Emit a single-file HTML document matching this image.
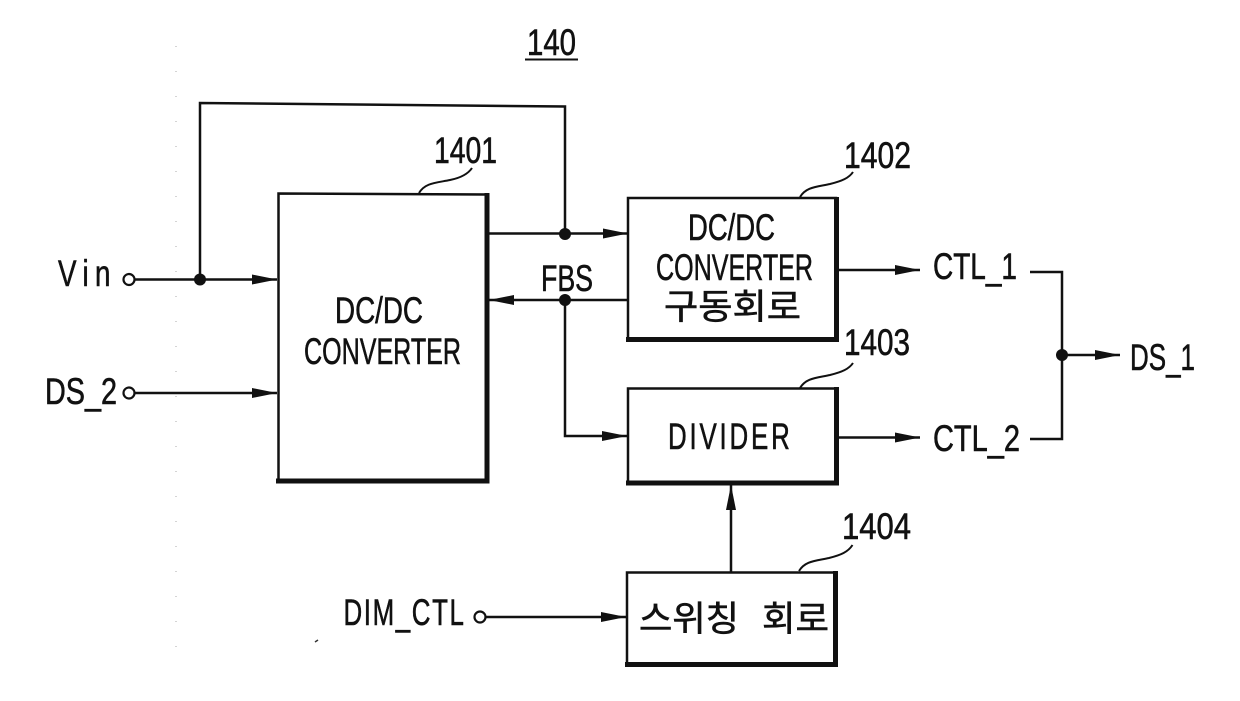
<!DOCTYPE html>
<html><head><meta charset="utf-8">
<style>
html,body{margin:0;padding:0;background:#fff;width:1240px;height:701px;overflow:hidden}
svg{display:block}
text{font-family:"Liberation Sans","Noto Sans CJK KR",sans-serif;fill:#111;stroke:#111;stroke-width:.6}
</style></head><body>
<svg width="1240" height="701" viewBox="0 0 1240 701" xmlns="http://www.w3.org/2000/svg">
<defs>
<marker id="a" markerUnits="userSpaceOnUse" markerWidth="25" markerHeight="12" refX="25" refY="6" orient="auto"><path d="M0 1L25 6L0 11Z" fill="#111"/></marker>
</defs>
<!-- faint scan specks -->
<path d="M176 46V660" stroke="#aaa" stroke-width="1" stroke-dasharray="1 24" fill="none"/>
<path d="M315 642L318 640" stroke="#333" stroke-width="1.5" fill="none"/>
<g fill="none" stroke="#111" stroke-width="2.5">
<!-- boxes -->
<path d="M278.5 193.5L487 194.5V481H278.5Z"/>
<path d="M276 481H489M487 193V483.5" stroke-width="5"/>
<path d="M628 198H836V339H628Z"/>
<path d="M626 339.5H838.5M836.5 197V342" stroke-width="5"/>
<path d="M628 388.5H836V483H628Z"/>
<path d="M626 483H838.5M836.5 387V485.5" stroke-width="5"/>
<path d="M627 572.5H835.5V664.5H627Z"/>
<path d="M625 664.5H838M835.5 571V667" stroke-width="5"/>
<!-- leaders -->
<g stroke-width="2">
<path d="M419 193C425 183 435 183 450 180C460 178 468 174 472 168"/>
<path d="M800 197C806 187 816 187 830 184C842 181 849 178 853 172"/>
<path d="M800 388C806 378 816 378 830 375C842 372 849 369 853 363"/>
<path d="M799 571C805 561 815 561 829 558C841 555 848 552 852.5 545"/>
</g>
<!-- wires -->
<circle cx="129" cy="279.5" r="5.5" fill="#fff" stroke-width="2.2"/>
<circle cx="129" cy="393" r="5.5" fill="#fff" stroke-width="2.2"/>
<circle cx="480" cy="617" r="5.5" fill="#fff" stroke-width="2.2"/>
<path d="M135 279.5H277" marker-end="url(#a)"/>
<path d="M135 393H277" marker-end="url(#a)"/>
<path d="M200 279.5V103L565 106.5V234"/>
<path d="M489 233.5H628" marker-end="url(#a)"/>
<path d="M628 300H489" marker-end="url(#a)"/>
<path d="M565 300V436H627" marker-end="url(#a)"/>
<path d="M486 617H626" marker-end="url(#a)"/>
<path d="M731 572V485" marker-end="url(#a)"/>
<path d="M839 270H920" marker-end="url(#a)"/>
<path d="M839 437.5H920" marker-end="url(#a)"/>
<path d="M1030 272H1062V439H1030"/>
<path d="M1062 355H1120" marker-end="url(#a)"/>
<path d="M525 59.5H578" stroke-width="2"/>
</g>
<g fill="#111">
<circle cx="200" cy="279.5" r="6"/>
<circle cx="565" cy="234" r="6"/>
<circle cx="565" cy="300" r="6"/>
<circle cx="1062" cy="355" r="6"/>
</g>
<g font-size="37">
<text x="527" y="55" textLength="49" lengthAdjust="spacingAndGlyphs">140</text>
<text x="434" y="163" textLength="63" lengthAdjust="spacingAndGlyphs">1401</text>
<text x="844" y="168" textLength="67" lengthAdjust="spacingAndGlyphs">1402</text>
<text x="844" y="355" textLength="66" lengthAdjust="spacingAndGlyphs">1403</text>
<text x="842" y="539" textLength="69" lengthAdjust="spacingAndGlyphs">1404</text>
<text transform="translate(58 286) scale(.75 1)" textLength="70" lengthAdjust="spacing">Vin</text>
<text x="45" y="404" textLength="72" lengthAdjust="spacingAndGlyphs">DS_2</text>
<text transform="translate(343.5 625) scale(.7 1)" textLength="172" lengthAdjust="spacing">DIM_CTL</text>
<text x="541" y="291" textLength="52" lengthAdjust="spacingAndGlyphs">FBS</text>
<text x="933" y="279" textLength="84" lengthAdjust="spacingAndGlyphs">CTL_1</text>
<text x="933" y="451" textLength="87" lengthAdjust="spacingAndGlyphs">CTL_2</text>
<text x="1130" y="370" textLength="65" lengthAdjust="spacingAndGlyphs">DS_1</text>
<text x="335" y="323" textLength="88" lengthAdjust="spacingAndGlyphs">DC/DC</text>
<text x="304" y="364" textLength="157" lengthAdjust="spacingAndGlyphs">CONVERTER</text>
<text x="688" y="240" textLength="87" lengthAdjust="spacingAndGlyphs">DC/DC</text>
<text x="656" y="280" textLength="157" lengthAdjust="spacingAndGlyphs">CONVERTER</text>
<text transform="translate(668 449) scale(.7 1)" textLength="174" lengthAdjust="spacing">DIVIDER</text>
<text x="664" y="319" font-size="35" textLength="137" lengthAdjust="spacingAndGlyphs">구동회로</text>
<text x="639" y="631" font-size="35" textLength="100" lengthAdjust="spacingAndGlyphs">스위칭</text>
<text x="762" y="631" font-size="35" textLength="67" lengthAdjust="spacingAndGlyphs">회로</text>
</g>
</svg>
</body></html>
